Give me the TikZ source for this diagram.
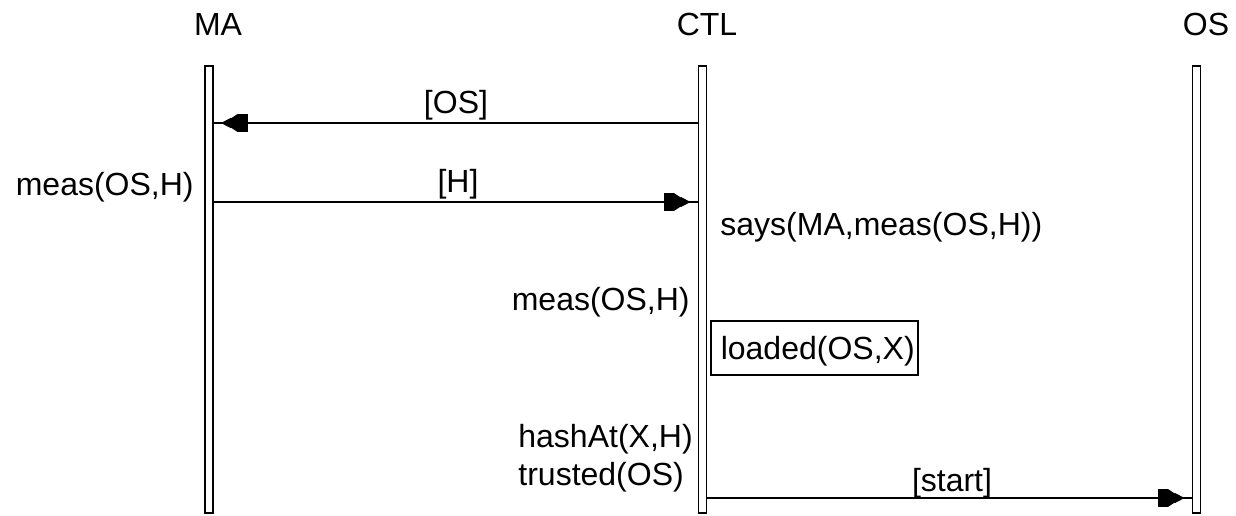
\documentclass[tikz,border=0pt]{standalone}
\usepackage{fontspec}
\setmainfont{Liberation Sans}
\usetikzlibrary{arrows.meta,positioning}

\tikzset{
  lane/.style={draw,line width=0.9pt,minimum width=4pt,minimum height=223.5pt,inner sep=0pt},
  head/.style={font=\fontsize{16}{19}\selectfont,inner sep=0pt},
  lbl/.style={font=\fontsize{16}{19}\selectfont,inner sep=0pt},
  msg/.style={line width=0.75pt,postaction={draw,shorten >=3.5pt,
    -{Rectangle[length=5pt,width=9pt,sep=0pt]Triangle[length=7pt,width=9pt,sep=-3.5pt]Triangle[length=5pt,width=5pt]}}},
  factbox/.style={draw,line width=0.8pt,font=\fontsize{16}{19}\selectfont,minimum width=103.5pt,minimum height=27pt,
    inner xsep=5pt,text width=93.5pt,align=left,text depth=0pt}
}

\begin{document}
\begin{tikzpicture}[x=0.5pt,y=-0.5pt]
\useasboundingbox (0,0) rectangle (1236,515);
% lifelines
\node[lane] (ma) at (209,289.5) {};
\node[lane] (ctl) at (702.5,289.5) {};
\node[lane] (os) at (1196.5,289.5) {};
\node[head,anchor=base] (maT) at (218,35) {MA};
\node[head,anchor=base] (ctlT) at (707,35) {CTL};
\node[head,anchor=base] (osT) at (1206,35) {OS};
% message rows
\coordinate (r1) at (0,123);
\coordinate (r2) at (0,202);
\coordinate (r3) at (0,498);
\draw[msg] (ctl.west |- r1) -- (ma.east |- r1);
\node[lbl,anchor=base] (m1) at (456,113) {[OS]};
\draw[msg] (ma.east |- r2) -- (ctl.west |- r2);
\node[lbl,anchor=base] (m2) at (458,192) {[H]};
\draw[msg] (ctl.east |- r3) -- (os.west |- r3);
\node[lbl,anchor=base] (m3) at (952,491) {[start]};
% facts at each step
\node[lbl,anchor=base east] (f1) at (194,195) {meas(OS,H)};
\node[lbl,anchor=base west] (f2) at (720,235) {says(MA,meas(OS,H))};
\node[lbl,anchor=base east] (f3) at (690,310) {meas(OS,H)};
\node[factbox,anchor=south west] (f4) at (710,376) {loaded(OS,X)};
\node[lbl,anchor=base west] (f5) at (518,447) {hashAt(X,H)};
\node[lbl,anchor=base west] (f6) at (518,485) {trusted(OS)};
\end{tikzpicture}
\end{document}
